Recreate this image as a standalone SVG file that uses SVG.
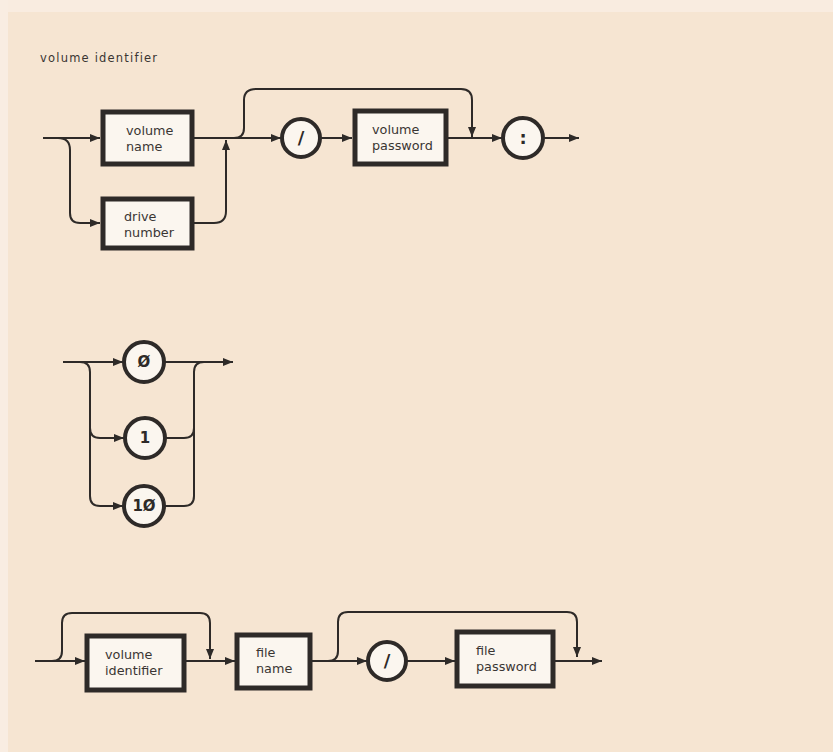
<svg xmlns="http://www.w3.org/2000/svg" width="833" height="752" viewBox="0 0 833 752">
<style>
.box{fill:#fbf6ef;stroke:#2e2a28;stroke-width:5}
.circ{fill:#fbf6ef;stroke:#2e2a28;stroke-width:4}
.t{font-family:"DejaVu Sans",sans-serif;font-size:12.8px;fill:#3a3533}
.c{font-family:"DejaVu Sans",sans-serif;font-size:15px;font-weight:bold;fill:#2e2a28;text-anchor:middle}
.big{font-size:18px}
.title{font-family:"DejaVu Sans",sans-serif;font-size:11.5px;letter-spacing:1.2px;fill:#3a3533}
.ln{fill:none;stroke:#2e2a28;stroke-width:2}
</style>
<defs>
<marker id="ah" markerWidth="10" markerHeight="8" refX="10" refY="4" orient="auto" markerUnits="userSpaceOnUse">
<path d="M0,0 L10,4 L0,8 Z" fill="#2e2a28"/>
</marker>
</defs>
<rect width="833" height="752" fill="#f6e5d2"/>
<rect width="833" height="12" fill="#f9ece0"/>
<rect width="8" height="752" fill="#f9ede2"/>

<text class="title" x="40" y="62">volume identifier</text>

<g id="connectors">
<path class="ln" d="M43,138 H100" marker-end="url(#ah)"/>
<path class="ln" d="M58,138 Q70,138 70,150 V213 Q70,223 80,223 H100" marker-end="url(#ah)"/>
<path class="ln" d="M194,138 H281" marker-end="url(#ah)"/>
<path class="ln" d="M194,223 H214 Q226,223 226,211 V140" marker-end="url(#ah)"/>
<path class="ln" d="M234,138 Q244,138 244,128 V100 Q244,89 256,89 H461 Q472,89 472,100 V137" marker-end="url(#ah)"/>
<path class="ln" d="M321,138 H352" marker-end="url(#ah)"/>
<path class="ln" d="M448,138 H502" marker-end="url(#ah)"/>
<path class="ln" d="M543,138 H579" marker-end="url(#ah)"/>
<path class="ln" d="M63,362 H123" marker-end="url(#ah)"/>
<path class="ln" d="M80,362 Q90,362 90,372 V496 Q90,506 100,506 H123" marker-end="url(#ah)"/>
<path class="ln" d="M90,428 Q90,438 100,438 H124" marker-end="url(#ah)"/>
<path class="ln" d="M164,362 H233" marker-end="url(#ah)"/>
<path class="ln" d="M165,438 H184 Q194,438 194,428"/>
<path class="ln" d="M165,506 H184 Q194,506 194,496 V372 Q194,362 204,362"/>
<path class="ln" d="M35,661 H85" marker-end="url(#ah)"/>
<path class="ln" d="M52,661 Q62,661 62,651 V623 Q62,613 72,613 H200 Q210,613 210,623 V659" marker-end="url(#ah)"/>
<path class="ln" d="M186,661 H235" marker-end="url(#ah)"/>
<path class="ln" d="M312,661 H367" marker-end="url(#ah)"/>
<path class="ln" d="M328,661 Q338,661 338,651 V622 Q338,612 348,612 H567 Q577,612 577,622 V657" marker-end="url(#ah)"/>
<path class="ln" d="M407,661 H455" marker-end="url(#ah)"/>
<path class="ln" d="M555,661 H602" marker-end="url(#ah)"/>
</g>

<g id="volume-name">
<rect class="box" x="103" y="112" width="89" height="52"/>
<text class="t" x="126" y="135">volume</text>
<text class="t" x="126" y="151">name</text>
</g>
<g id="drive-number">
<rect class="box" x="103" y="199" width="89" height="49"/>
<text class="t" x="124" y="221">drive</text>
<text class="t" x="124" y="237">number</text>
</g>
<g id="slash-1">
<circle class="circ" cx="301" cy="138" r="19"/>
<text class="c big" x="301" y="144">/</text>
</g>
<g id="volume-password">
<rect class="box" x="355" y="111" width="91" height="53"/>
<text class="t" x="372" y="134">volume</text>
<text class="t" x="372" y="150">password</text>
</g>
<g id="colon">
<circle class="circ" cx="523" cy="138" r="20"/>
<text class="c big" x="523" y="144">:</text>
</g>

<g id="zero">
<circle class="circ" cx="144" cy="362" r="20"/>
<text class="c" x="144" y="367">Ø</text>
</g>
<g id="one">
<circle class="circ" cx="145" cy="438" r="20"/>
<text class="c" x="145" y="443">1</text>
</g>
<g id="ten">
<circle class="circ" cx="144" cy="506" r="20"/>
<text class="c" x="144" y="511">1Ø</text>
</g>

<g id="volume-identifier">
<rect class="box" x="87" y="636" width="97" height="54"/>
<text class="t" x="105" y="659">volume</text>
<text class="t" x="105" y="675">identifier</text>
</g>
<g id="file-name">
<rect class="box" x="237" y="635" width="73" height="53"/>
<text class="t" x="256" y="657">file</text>
<text class="t" x="256" y="673">name</text>
</g>
<g id="slash-2">
<circle class="circ" cx="387" cy="661" r="19"/>
<text class="c big" x="387" y="667">/</text>
</g>
<g id="file-password">
<rect class="box" x="457" y="632" width="96" height="54"/>
<text class="t" x="476" y="655">file</text>
<text class="t" x="476" y="671">password</text>
</g>
</svg>
